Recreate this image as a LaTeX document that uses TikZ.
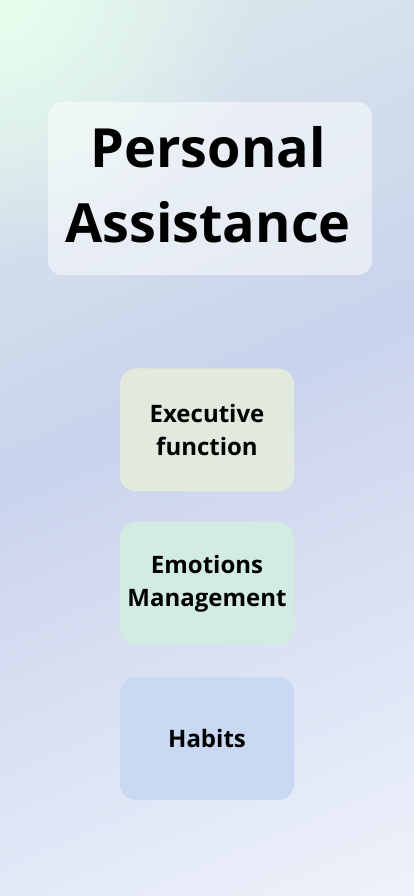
\documentclass[tikz,border=0pt]{standalone}
\usepackage{fontspec}
\setmainfont{Open Sans}
\usetikzlibrary{fadings}
\definecolor{bgtop}{HTML}{DDEAEC}
\definecolor{bgmid}{HTML}{C9D3EC}
\definecolor{bgbot}{HTML}{EEF2FB}
\definecolor{mint}{HTML}{E8FFEE}
\definecolor{execfill}{HTML}{E1EADC}
\definecolor{emofill}{HTML}{D2ECE4}
\definecolor{habfill}{HTML}{C9D9F3}
\pgfdeclareverticalshading{bgshade}{100bp}{color(0bp)=(bgbot); color(25bp)=(bgbot); color(52.4bp)=(bgmid); color(75bp)=(bgtop); color(100bp)=(bgtop)}
\tikzfading[name=glowfade, inner color=transparent!0, outer color=transparent!100]
\tikzset{
  titlebox/.style={fill=white, fill opacity=0.5, rounded corners=14pt,
    minimum width=324pt, minimum height=173pt, inner sep=0pt},
  titletxt/.style={align=center, inner sep=0pt,
    font=\fontsize{54}{75}\selectfont\bfseries},
  itembox/.style={rounded corners=16pt, minimum width=174pt, minimum height=123pt,
    align=center, inner sep=0pt, font=\fontsize{24}{33}\selectfont\bfseries},
}
\begin{document}
\begin{tikzpicture}[x=1pt,y=1pt]
\useasboundingbox (0,0) rectangle (414,896);
\begin{scope}
\clip (0,0) rectangle (414,896);
\begin{scope}[transform canvas={shift={(207pt,499pt)}, rotate=23}]
\shade[shading=bgshade] (-700,-540) rectangle (700,446);
\end{scope}
\fill[mint, path fading=glowfade] (-260,636) rectangle (260,1156);
\end{scope}
\node[titlebox] (title) at (210,707.5) {};
\node[titletxt] (titletext) at (208,711) {Personal\\Assistance};
\node[itembox, fill=execfill] (exec) at (207,466) {Executive\\function};
\node[itembox, fill=emofill] (emo) at (207,312.5) {Emotions\\Management};
\node[itembox, fill=habfill] (hab) at (207,157.5) {Habits};
\end{tikzpicture}
\end{document}
